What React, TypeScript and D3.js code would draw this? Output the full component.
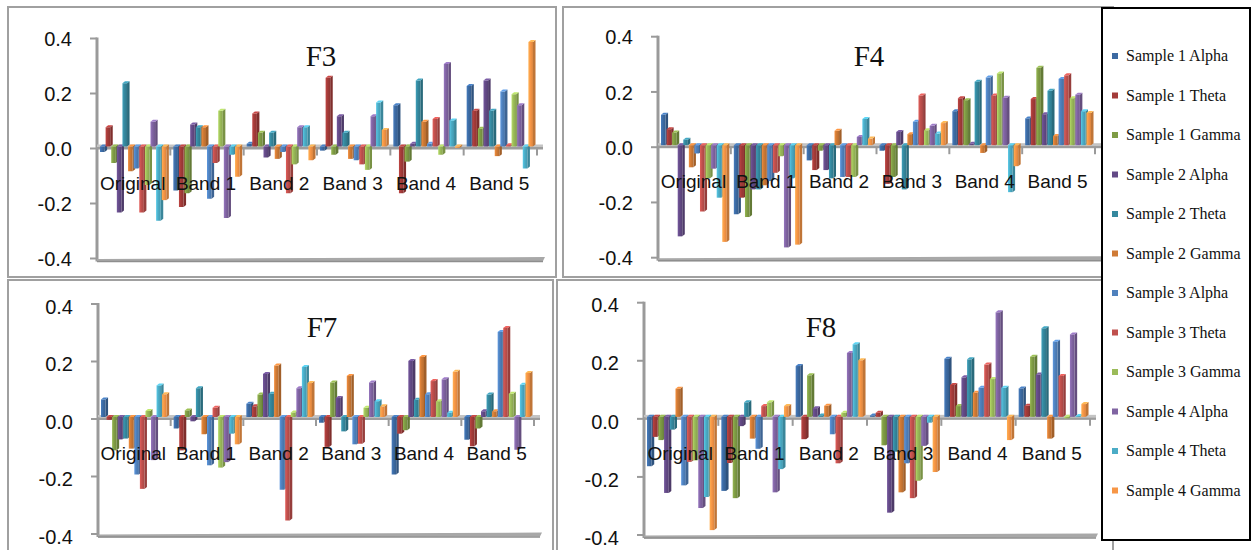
import React from 'react';
import * as d3 from 'd3';

const categories = ['Original', 'Band 1', 'Band 2', 'Band 3', 'Band 4', 'Band 5'];
const seriesNames = [
  'Sample 1 Alpha', 'Sample 1 Theta', 'Sample 1 Gamma',
  'Sample 2 Alpha', 'Sample 2 Theta', 'Sample 2 Gamma',
  'Sample 3 Alpha', 'Sample 3 Theta', 'Sample 3 Gamma',
  'Sample 4 Alpha', 'Sample 4 Theta', 'Sample 4 Gamma',
];
const seriesColors = [
  '#3C6AA2', '#A33B39', '#7F9C45', '#634A86', '#35889E', '#CF7A35',
  '#4F81BD', '#C0504D', '#9BBB59', '#8064A2', '#4BACC6', '#F79646',
];
const yTickValues = [-0.4, -0.2, 0, 0.2, 0.4];
const yTickLabels = ['-0.4', '-0.2', '0.0', '0.2', '0.4'];

// rows: series (12), columns: categories (6)
const f3Values = [
  [-0.02, -0.16, 0.01, -0.015, 0.15, 0.22],
  [0.07, -0.22, 0.12, 0.25, -0.17, 0.13],
  [-0.06, -0.17, 0.05, -0.03, -0.055, 0.065],
  [-0.24, 0.08, -0.04, 0.11, 0.01, 0.24],
  [0.23, 0.07, 0.05, 0.05, 0.24, 0.13],
  [-0.09, 0.07, -0.045, -0.045, 0.09, -0.035],
  [-0.08, -0.19, -0.02, -0.05, 0.01, 0.2],
  [-0.24, -0.06, -0.17, -0.065, 0.1, 0.005],
  [-0.14, 0.13, -0.065, -0.085, -0.03, 0.19],
  [0.09, -0.26, 0.07, 0.11, 0.3, 0.15],
  [-0.27, -0.03, 0.07, 0.16, 0.095, -0.08],
  [-0.195, -0.11, -0.05, 0.06, -0.005, 0.38],
];
const f4Values = [
  [0.11, -0.25, -0.055, -0.02, 0.123, 0.097],
  [0.058, -0.19, -0.09, -0.14, 0.17, 0.167],
  [0.046, -0.26, -0.02, -0.115, 0.163, 0.28],
  [-0.33, -0.16, -0.09, 0.048, 0.005, 0.112],
  [0.02, -0.16, -0.12, -0.16, 0.23, 0.197],
  [-0.08, -0.145, 0.052, 0.04, -0.028, 0.033],
  [-0.03, -0.13, -0.115, 0.085, 0.245, 0.24],
  [-0.24, -0.1, -0.115, 0.18, 0.18, 0.253],
  [-0.12, -0.04, -0.115, 0.054, 0.26, 0.17],
  [-0.085, -0.37, 0.03, 0.07, 0.172, 0.183],
  [-0.19, -0.12, 0.095, 0.042, -0.17, 0.123],
  [-0.35, -0.36, 0.024, 0.08, -0.076, 0.117],
];
const f7Values = [
  [0.061, -0.04, 0.046, -0.02, -0.2, -0.079],
  [-0.01, -0.116, 0.037, -0.104, -0.058, -0.102],
  [-0.116, 0.023, 0.078, 0.12, -0.046, -0.04],
  [-0.078, -0.015, 0.15, 0.066, 0.195, 0.02],
  [-0.075, 0.1, 0.081, -0.05, 0.06, 0.078],
  [-0.11, -0.06, 0.179, 0.143, 0.209, 0.02],
  [-0.2, -0.168, -0.253, -0.095, 0.079, 0.296],
  [-0.25, 0.032, -0.36, -0.093, 0.125, 0.31],
  [0.021, -0.176, 0.016, 0.032, 0.055, 0.081],
  [-0.15, -0.157, 0.1, 0.12, 0.131, -0.114],
  [0.11, -0.058, 0.174, 0.055, 0.015, 0.112],
  [0.079, -0.095, 0.118, 0.037, 0.157, 0.153],
];
const f8Values = [
  [-0.17, -0.255, 0.175, 0.005, 0.2, 0.098],
  [-0.069, -0.159, -0.077, 0.014, 0.11, 0.038],
  [-0.08, -0.28, 0.143, -0.098, 0.037, 0.207],
  [-0.262, -0.032, 0.03, -0.33, 0.136, 0.146],
  [-0.044, 0.05, 0.005, -0.12, 0.198, 0.305],
  [0.097, -0.075, 0.038, -0.26, 0.083, -0.075],
  [-0.236, -0.11, -0.06, -0.16, 0.1, 0.259],
  [-0.155, 0.037, -0.16, -0.28, 0.18, 0.141],
  [-0.15, 0.05, 0.014, -0.22, 0.13, -0.005],
  [-0.314, -0.26, 0.22, -0.1, 0.36, 0.284],
  [-0.276, -0.18, 0.25, -0.02, 0.1, 0.003],
  [-0.39, 0.037, 0.195, -0.19, -0.08, 0.044],
];

type PanelCfg = {
  title: string;
  values: number[][];
  box: [number, number, number, number];
  axisX: number;
  xEnd: number;
  yTop: number;
  yBottom: number;
  titleX: number;
  titleY: number;
  labelShift: number;
};

const panels: PanelCfg[] = [
  { title: 'F3', values: f3Values, box: [8, 7, 548, 270], axisX: 97, xEnd: 537, yTop: 38.5, yBottom: 258.5, titleX: 321, titleY: 66, labelShift: 0 },
  { title: 'F4', values: f4Values, box: [563, 7, 550, 270], axisX: 658, xEnd: 1095, yTop: 36.7, yBottom: 257.7, titleX: 869, titleY: 66, labelShift: 0.5 },
  { title: 'F7', values: f7Values, box: [8, 280, 545, 290], axisX: 98, xEnd: 534, yTop: 304, yBottom: 534, titleX: 322, titleY: 337, labelShift: 2.5 },
  { title: 'F8', values: f8Values, box: [557, 280, 556, 290], axisX: 644, xEnd: 1090, yTop: 302.7, yBottom: 535, titleX: 821, titleY: 337, labelShift: 2.5 },
];

const SANS = '"Liberation Sans", Arial, sans-serif';
const SERIF = '"Liberation Serif", "Times New Roman", serif';
const AXIS_GRAY = '#9A9A9A';

function Panel({ p }: { p: PanelCfg }) {
  const x = d3.scaleBand<string>().domain(categories).range([p.axisX, p.xEnd]).paddingInner(0).paddingOuter(0);
  const y = d3.scaleLinear().domain([-0.4, 0.4]).range([p.yBottom, p.yTop]);
  const inner = d3.scaleBand<string>().domain(seriesNames).range([3, x.bandwidth() - 3]);
  const step = inner.step();
  const w = step * 0.82;
  const dx = step * 0.45;
  const dy = 2;
  const lift = 2;
  const base = y(0) - lift;
  const [bx, by, bw, bh] = p.box;
  const rightEnd = p.xEnd + 6;

  const bars: React.ReactNode[] = [];
  categories.forEach((cat, ci) => {
    seriesNames.forEach((s, si) => {
      const v = p.values[si][ci];
      const x0 = (x(cat) as number) + (inner(s) as number);
      const yv = y(v) - lift;
      const top = Math.min(yv, base);
      const bottom = Math.max(yv, base);
      const col = seriesColors[si];
      const side = d3.color(col)!.darker(0.7).formatHex();
      const cap = d3.color(col)!.brighter(0.6).formatHex();
      bars.push(
        <g key={`${cat}-${s}`}>
          <polygon
            points={`${x0 + w},${top} ${x0 + w + dx},${top - dy} ${x0 + w + dx},${bottom - dy} ${x0 + w},${bottom}`}
            fill={side}
          />
          <rect x={x0} y={top} width={w} height={Math.max(0.5, bottom - top)} fill={`url(#grad${si})`} />
          <polygon
            points={`${x0},${top} ${x0 + dx},${top - dy} ${x0 + w + dx},${top - dy} ${x0 + w},${top}`}
            fill={cap}
          />
        </g>
      );
    });
  });

  return (
    <g>
      <rect x={bx} y={by} width={bw} height={bh} fill="white" stroke="#A0A0A0" strokeWidth={2} />
      {/* y axis */}
      <line x1={p.axisX} x2={p.axisX} y1={p.yTop - 1} y2={p.yBottom + 3} stroke={AXIS_GRAY} strokeWidth={3} />
      {yTickValues.map((t, i) => (
        <g key={t}>
          <line x1={p.axisX - 7} x2={p.axisX} y1={y(t)} y2={y(t)} stroke={AXIS_GRAY} strokeWidth={2} />
          <text x={p.axisX - 25} y={y(t) + p.labelShift} dy="0.36em" textAnchor="end" fontFamily={SANS} fontSize={20} fill="#111">
            {yTickLabels[i]}
          </text>
        </g>
      ))}
      {/* floor bottom */}
      <polygon
        points={`${p.axisX},${p.yBottom + 0.5} ${rightEnd + 2},${p.yBottom - 1.5} ${rightEnd},${p.yBottom + 2.5} ${p.axisX},${p.yBottom + 3.5}`}
        fill="#A8A8A8"
      />
      <line x1={p.axisX} x2={rightEnd} y1={p.yBottom + 3} y2={p.yBottom + 3} stroke="#8E8E8E" strokeWidth={1.5} />
      {/* zero plane */}
      <rect x={p.axisX} y={base - 2} width={rightEnd - p.axisX} height={2.5} fill="#C4C4C4" />
      <rect x={p.axisX} y={base + 0.5} width={rightEnd - p.axisX} height={2.5} fill="#9C9C9C" />
      {categories.map((c, i) => (
        <line key={`tk${i}`} x1={(x(c) as number)} x2={(x(c) as number)} y1={base + 2} y2={base + 9} stroke={AXIS_GRAY} strokeWidth={2} />
      ))}
      <line x1={p.xEnd} x2={p.xEnd} y1={base + 2} y2={base + 9} stroke={AXIS_GRAY} strokeWidth={2} />
      {bars}
      {categories.map((c) => (
        <text key={c} x={(x(c) as number) + x.bandwidth() / 2 - 1} y={y(0) + 41} textAnchor="middle" fontFamily={SANS} fontSize={19} fill="#111">
          {c}
        </text>
      ))}
      <text x={p.titleX} y={p.titleY} textAnchor="middle" fontFamily={SERIF} fontSize={29} fill="#111">
        {p.title}
      </text>
    </g>
  );
}

export default function App() {
  const legendTop = 56;
  const legendStep = 39.5;
  return (
    <svg width={1254} height={550} style={{ position: 'absolute', left: 0, top: 0, background: 'white' }}>
      <defs>
        {seriesColors.map((c, i) => (
          <linearGradient key={i} id={`grad${i}`} x1="0" x2="1" y1="0" y2="0">
            <stop offset="0%" stopColor={d3.color(c)!.brighter(0.45).formatHex()} />
            <stop offset="45%" stopColor={c} />
            <stop offset="100%" stopColor={d3.color(c)!.darker(0.35).formatHex()} />
          </linearGradient>
        ))}
      </defs>
      <rect x={0} y={0} width={1254} height={550} fill="white" />
      {panels.map((p) => (
        <Panel key={p.title} p={p} />
      ))}
      {/* legend */}
      <rect x={1102} y={8} width={148} height={532} fill="white" stroke="#000" strokeWidth={2} />
      {seriesNames.map((s, i) => (
        <g key={s}>
          <rect x={1112} y={legendTop + i * legendStep - 3} width={6} height={6} fill={seriesColors[i]} />
          <text x={1126} y={legendTop + i * legendStep} dy="0.33em" fontFamily={SERIF} fontSize={16} fill="#111">
            {s}
          </text>
        </g>
      ))}
    </svg>
  );
}
